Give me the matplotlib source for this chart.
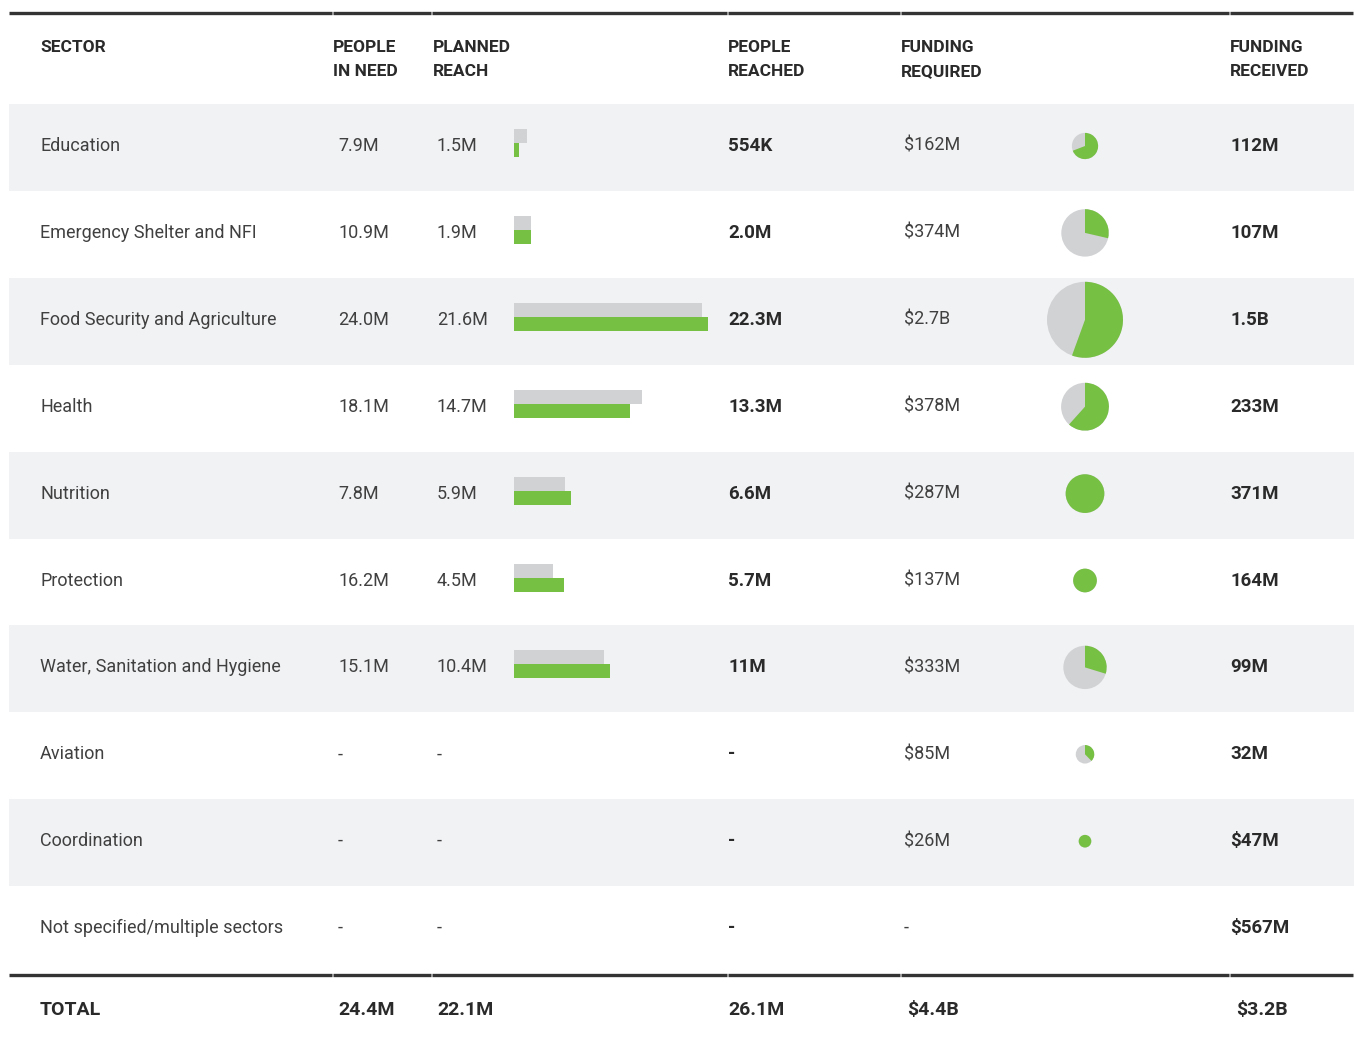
import matplotlib.pyplot as plt
from matplotlib.patches import Rectangle, Wedge, Circle

sectors = [
    "Education", "Emergency Shelter and NFI", "Food Security and Agriculture",
    "Health", "Nutrition", "Protection", "Water, Sanitation and Hygiene",
    "Aviation", "Coordination", "Not specified/multiple sectors",
]
people_in_need = ["7.9M", "10.9M", "24.0M", "18.1M", "7.8M", "16.2M", "15.1M", "-", "-", "-"]
planned_reach = ["1.5M", "1.9M", "21.6M", "14.7M", "5.9M", "4.5M", "10.4M", "-", "-", "-"]
people_reached = ["554K", "2.0M", "22.3M", "13.3M", "6.6M", "5.7M", "11M", "-", "-", "-"]
funding_required = ["$162M", "$374M", "$2.7B", "$378M", "$287M", "$137M", "$333M", "$85M", "$26M", "-"]
funding_received = ["112M", "107M", "1.5B", "233M", "371M", "164M", "99M", "32M", "$47M", "$567M"]

# numeric values (millions) for the bars and pies
planned_m = [1.5, 1.9, 21.6, 14.7, 5.9, 4.5, 10.4, None, None, None]
reached_m = [0.554, 2.0, 22.3, 13.3, 6.6, 5.7, 11.0, None, None, None]
required_m = [162, 374, 2700, 378, 287, 137, 333, 85, 26, None]
received_m = [112, 107, 1500, 233, 371, 164, 99, 32, 47, 567]

totals = ["TOTAL", "24.4M", "22.1M", "26.1M", "$4.4B", "$3.2B"]

GREEN = "#76c043"
GREY = "#d1d2d4"
BAND = "#f1f2f4"
TEXT = "#404040"
DARK = "#2a2a2a"

W, H = 1354, 1039
fig = plt.figure(figsize=(W / 100, H / 100), dpi=100)
ax = fig.add_axes([0, 0, 1, 1])
ax.set_xlim(0, W)
ax.set_ylim(H, 0)
ax.set_aspect("equal")
ax.axis("off")

# column x positions
col_sector, col_pin, col_plan, col_bar, col_reach, col_req, col_pie, col_rec = 40, 338, 437, 514, 728, 904, 1085, 1230
row_top, row_h = 104, 86.9
bar_scale = 8.7  # px per million

# header and total rules, broken at column boundaries
edges = [9, 333, 432, 728, 901, 1230, W]
for a, b in zip(edges[:-1], edges[1:]):
    ax.plot([a, b - 1], [13, 13], color="#333333", lw=2.4, solid_capstyle="butt")
    ax.plot([a, b - 1], [975, 975], color="#333333", lw=2.4, solid_capstyle="butt")

head = dict(fontfamily="Roboto", fontweight="bold", fontsize=12.5, color=DARK, va="center")
ax.text(col_sector, 48, "SECTOR", **head)
for x, l1, l2 in [(333, "PEOPLE", "IN NEED"), (433, "PLANNED", "REACH"),
                  (728, "PEOPLE", "REACHED"), (901, "FUNDING", "REQUIRED"),
                  (1230, "FUNDING", "RECEIVED")]:
    ax.text(x, 48, l1, **head)
    ax.text(x, 72, l2, **head)

light = dict(fontfamily="Roboto", fontweight="normal", fontsize=13, color=TEXT, va="center")
bold = dict(fontfamily="Roboto", fontweight="bold", fontsize=13.5, color=DARK, va="center")

for i, name in enumerate(sectors):
    top = row_top + i * row_h
    cy = top + 42
    if i % 2 == 0:
        ax.add_patch(Rectangle((9, top), W - 9, row_h, color=BAND, lw=0, zorder=0))
    ax.text(col_sector, cy, name, **light)
    ax.text(col_pin, cy, people_in_need[i], **light)
    ax.text(col_plan, cy, planned_reach[i], **light)
    ax.text(col_reach, cy, people_reached[i], **bold)
    ax.text(col_req, cy, funding_required[i], **light)
    ax.text(col_rec, cy, funding_received[i], **bold)

    if planned_m[i] is not None:
        ax.barh(cy - 10, planned_m[i] * bar_scale, height=14, left=col_bar, color=GREY, zorder=2)
        ax.barh(cy + 4, reached_m[i] * bar_scale, height=14, left=col_bar, color=GREEN, zorder=3)

    if required_m[i] is not None:
        r = min(5 + 0.05 * required_m[i], 38)
        frac = min(received_m[i] / required_m[i], 1.0)
        ax.add_patch(Circle((col_pie, cy), r, color=GREY, lw=0, zorder=2))
        if frac >= 1:
            ax.add_patch(Circle((col_pie, cy), r, color=GREEN, lw=0, zorder=3))
        else:
            ax.add_patch(Wedge((col_pie, cy), r, -90, -90 + 360 * frac, color=GREEN, lw=0, zorder=3))

total_x = [40, 338, 437, 728, 907, 1236]
for x, t in zip(total_x, totals):
    ax.text(x, 1010, t, fontfamily="Roboto", fontweight="bold", fontsize=14, color=DARK, va="center")

fig.savefig("out.png", dpi=100, facecolor="white")
